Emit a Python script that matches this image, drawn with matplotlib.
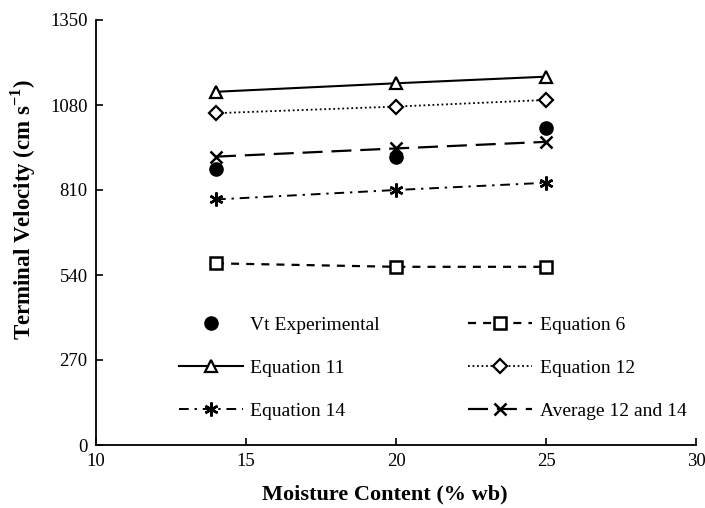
import matplotlib
matplotlib.use("Agg")
import matplotlib.pyplot as plt

plt.rcParams['font.family'] = ['Liberation Serif', 'DejaVu Serif']

moisture = [14, 20, 25]
vt_exp = [876, 916, 1008]
eq6 = [577, 566, 566]
eq11 = [1122, 1149, 1170]
eq12 = [1054, 1075, 1096]
eq14 = [780, 810, 833]
avg12_14 = [916, 942, 963]

xticks = [10, 15, 20, 25, 30]
yticks = [0, 270, 540, 810, 1080, 1350]

fig = plt.figure(figsize=(7.05, 5.08), dpi=100)
ax = fig.add_axes([96/705, 1-445/508, 600/705, 425/508])

k = 'black'
h_vt, = ax.plot(moisture, vt_exp, linestyle='none', marker='o', color=k, markersize=9.5, label='Vt Experimental')
h6, = ax.plot(moisture, eq6, linestyle=(0, (3.6, 3.2)), marker='s', color=k, markerfacecolor='white',
              markersize=9, markeredgewidth=1.8, linewidth=1.6, label='Equation 6')
h11, = ax.plot(moisture, eq11, linestyle='-', marker='^', color=k, markerfacecolor='white',
               markersize=9, markeredgewidth=1.6, linewidth=1.5, label='Equation 11')
h12, = ax.plot(moisture, eq12, linestyle=(0, (1, 1.5)), marker='D', color=k, markerfacecolor='white',
               markersize=7, markeredgewidth=1.6, linewidth=1.3, label='Equation 12')
h14, = ax.plot(moisture, eq14, linestyle=(0, (5, 3, 1.2, 3)), marker=(6, 2, 0), color=k,
               markersize=10, markeredgewidth=1.8, linewidth=1.4, label='Equation 14')
havg, = ax.plot(moisture, avg12_14, linestyle=(0, (9, 4)), marker='x', color=k,
                markersize=9, markeredgewidth=1.8, linewidth=1.6, label='Average 12 and 14')

ax.set_xlim(10, 30)
ax.set_ylim(0, 1350)
ax.set_xticks(xticks)
ax.set_yticks(yticks)
ax.tick_params(direction='in', length=5, width=1.2, labelsize=13.5)
ax.tick_params(axis='y', pad=6)
ax.tick_params(axis='x', pad=6)
for s in ['top', 'right']:
    ax.spines[s].set_visible(False)
for s in ['left', 'bottom']:
    ax.spines[s].set_linewidth(1.3)

ax.set_xlabel('Moisture Content (% wb)', fontsize=16, fontweight='bold')
ax.set_ylabel('Terminal Velocity (cm s$^{\\mathregular{-1}}$)', fontsize=16.5, fontweight='bold')
ax.xaxis.set_label_coords(0.482, -0.092)
ax.yaxis.set_label_coords(-0.097, 0.555)

handles = [h_vt, h11, h14, h6, h12, havg]
labels = [h.get_label() for h in handles]
leg = fig.legend(handles, labels, loc='upper left', bbox_to_anchor=(161/705, 1-299/508), ncol=2,
                 frameon=False, fontsize=14, handlelength=3.3, labelspacing=1.3,
                 columnspacing=4.5, handletextpad=0.4)

fig.savefig('out.png', dpi=100)
